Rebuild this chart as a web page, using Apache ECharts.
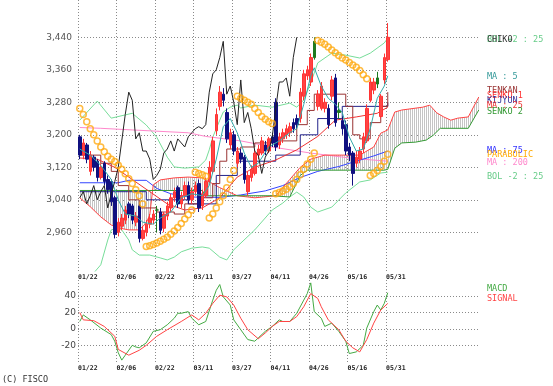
<!DOCTYPE html>
<html><head><meta charset="utf-8">
<script src="https://cdn.jsdelivr.net/npm/echarts@6/dist/echarts.min.js"></script>
<style>html,body{margin:0;padding:0;background:#fff}#c{width:553px;height:386px}</style>
</head><body><div id="c"></div><script>
const tickLabels = ['01/22','02/06','02/22','03/11','03/27','04/11','04/26','05/16','05/31'];
const priceTicks = [2960, 3040, 3120, 3200, 3280, 3360, 3440];
const macdTicks = [-20, 0, 20, 40];

const opens  = [3195,3150,3175,3110,3145,3135,3095,3130,3090,3085,3045,2960,2975,2990,3030,3025,2985,3025,2945,2960,2980,2990,3015,3010,2970,3000,3020,3045,3070,3030,3050,3075,3040,3060,3080,3025,3050,3085,3110,3210,3270,3300,3255,3175,3200,3130,3155,3145,3060,3095,3105,3150,3155,3175,3160,3195,3280,3175,3190,3200,3205,3230,3240,3240,3295,3345,3330,3390,3270,3265,3265,3265,3295,3340,3260,3235,3225,3170,3155,3130,3140,3165,3185,3285,3310,3325,3245,3335,3385];
const closes = [3150,3180,3140,3150,3120,3095,3120,3085,3065,3035,2955,2985,2995,3015,3005,2990,3000,2945,2965,2980,2995,3005,3015,2965,3005,3025,3045,3060,3030,3050,3075,3040,3060,3075,3020,3055,3085,3120,3185,3250,3305,3285,3190,3205,3160,3160,3140,3090,3100,3115,3155,3165,3185,3160,3190,3180,3170,3195,3205,3215,3220,3215,3225,3305,3350,3360,3390,3430,3300,3320,3280,3225,3335,3230,3255,3215,3160,3150,3105,3145,3160,3195,3265,3330,3330,3340,3295,3390,3440];
const lows   = [3140,3140,3130,3100,3110,3085,3090,3075,3055,3025,2945,2950,2965,2980,2995,2980,2975,2935,2940,2950,2970,2980,2960,2955,2960,2990,3010,3035,3020,3020,3040,3030,3030,3050,3010,3015,3045,3080,3105,3200,3260,3270,3180,3165,3150,3120,3130,3080,3050,3085,3100,3140,3150,3150,3155,3170,3160,3165,3180,3190,3195,3205,3215,3230,3285,3335,3320,3385,3260,3260,3255,3215,3285,3220,3240,3200,3150,3135,3075,3120,3130,3155,3180,3280,3300,3315,3240,3325,3380];
const highs  = [3200,3190,3180,3160,3150,3140,3130,3135,3100,3090,3050,2995,3005,3025,3035,3030,3010,3030,2975,2990,3005,3015,3025,3020,3010,3035,3055,3070,3075,3060,3085,3085,3070,3085,3090,3065,3095,3135,3195,3265,3320,3315,3265,3215,3210,3170,3165,3150,3110,3125,3165,3175,3195,3185,3195,3205,3290,3205,3215,3225,3230,3240,3250,3315,3360,3370,3400,3440,3310,3330,3290,3275,3345,3350,3280,3245,3235,3180,3160,3160,3170,3205,3275,3340,3340,3355,3300,3400,3475];
const greenDays = [22, 67, 74, 85];

const sar = [3265,3250,3232,3215,3200,3185,3170,3158,3147,3140,3134,3125,3115,3104,3092,3080,3065,3050,3030,
  2925,2927,2930,2934,2938,2943,2948,2955,2963,2972,2982,2993,3003,3015,
  3108,3105,3102,3098,
  2995,3005,3020,3035,3050,3070,3090,3112,
  3295,3290,3285,3280,3275,3265,3255,3245,3238,3232,3228,
  3055,3058,3062,3066,3072,3080,3090,3102,3115,3128,3140,3155,
  3432,3428,3423,3416,3409,3402,3395,3389,3384,3378,3372,3366,3358,3348,3338,
  3100,3105,3112,3122,3135,3152];

const ma5 = [[0,3165],[3,3150],[6,3125],[9,3090],[11,3040],[13,3005],[16,3000],[18,2985],[21,2980],[23,2995],[26,3010],[29,3045],[32,3055],[35,3050],[37,3075],[39,3140],[41,3220],[43,3240],[45,3205],[47,3155],[49,3120],[51,3130],[54,3170],[57,3185],[60,3205],[62,3215],[64,3275],[66,3345],[67,3365],[69,3320],[71,3290],[73,3275],[75,3255],[77,3195],[79,3160],[81,3165],[83,3215],[85,3290],[87,3320],[88,3345]];
const ma25 = [[0,3143],[5,3140],[10,3120],[15,3090],[20,3060],[25,3030],[30,3015],[35,3020],[40,3045],[45,3096],[50,3120],[56,3138],[62,3163],[68,3196],[73,3236],[79,3244],[85,3253],[88,3268]];
const ma75 = [[0,3082],[11,3082],[14,3088],[19,3088],[22,3068],[26,3055],[31,3047],[40,3046],[46,3052],[53,3062],[58,3075],[63,3095],[68,3110],[74,3122],[79,3135],[84,3148],[88,3160]];
const ma200 = [[0,3218],[6,3216],[15,3212],[31,3205],[36,3196],[46,3185],[55,3170],[66,3155],[78,3142],[88,3135]];
const bolUp = [[0,3236],[5,3283],[9,3241],[13,3249],[15,3253],[19,3224],[22,3194],[25,3145],[27,3121],[30,3118],[34,3121],[36,3138],[37,3163],[38,3194],[40,3236],[41,3256],[43,3268],[45,3273],[46,3266],[50,3273],[55,3268],[60,3278],[62,3268],[64,3286],[66,3328],[68,3377],[72,3401],[76,3396],[80,3389],[83,3401],[87,3426],[88,3438]];
const bolDn = [[0,2840],[3,2850],[6,2880],[8,2941],[9,2966],[11,2971],[12,2966],[14,2941],[15,2917],[17,2904],[20,2904],[23,2897],[25,2892],[27,2899],[29,2912],[32,2921],[35,2924],[37,2921],[40,2899],[42,2892],[44,2917],[50,2966],[55,3015],[58,3032],[60,3047],[62,3059],[64,3047],[66,3022],[68,3010],[72,3022],[76,3057],[80,3084],[83,3089],[86,3106],[88,3108]];
const tenkan = [[0,3150],[6,3130],[9,3110],[11,3075],[14,3040],[17,3020],[22,3010],[27,3005],[30,3030],[34,3045],[38,3080],[40,3135],[42,3165],[46,3170],[50,3180],[56,3185],[62,3225],[65,3260],[67,3300],[73,3300],[76,3270],[78,3200],[80,3190],[83,3230],[86,3270],[88,3305]];
const kijun = [[0,3060],[19,3040],[31,3030],[39,3100],[45,3135],[56,3150],[63,3200],[68,3240],[75,3270],[88,3280]];
const senko1 = [[0,3045],[3,3023],[6,2998],[9,2978],[11,2971],[14,2966],[17,2966],[19,2983],[20,3003],[21,3077],[23,3089],[27,3094],[31,3096],[35,3094],[40,3070],[45,3050],[50,3045],[56,3050],[60,3090],[63,3120],[66,3140],[70,3150],[75,3150],[80,3150],[84,3170],[86,3204],[88,3212],[90,3256],[92,3261],[98,3268],[100,3273],[102,3254],[104,3244],[106,3236],[108,3241],[111,3244],[114,3293]];
const senko2 = [[0,3063],[35,3063],[36,3050],[55,3050],[60,3047],[63,3100],[65,3113],[87,3113],[88,3115],[90,3167],[92,3180],[96,3182],[99,3187],[101,3199],[103,3216],[111,3216],[114,3261]];
const macd = [[0,9],[1,17],[3,11],[6,1],[9,-7],[10,-15],[11,-29],[12,-38],[13,-32],[15,-20],[16,-22],[17,-23],[19,-17],[21,-3],[23,-1],[25,5],[27,13],[28,19],[29,19],[31,21],[32,13],[34,5],[36,9],[38,35],[39,47],[40,54],[41,39],[43,29],[44,11],[46,-1],[48,-13],[50,-15],[51,-11],[53,-3],[55,3],[57,11],[58,9],[60,9],[62,19],[64,35],[65,43],[66,56],[67,21],[69,13],[70,3],[72,7],[74,-3],[76,-15],[77,-30],[79,-28],[81,-20],[82,1],[84,21],[85,29],[86,23],[87,31],[88,44]];
const signal = [[0,20],[1,11],[4,10],[7,3],[10,-9],[11,-25],[14,-32],[17,-26],[19,-20],[22,-9],[25,-1],[29,9],[32,17],[34,11],[36,19],[38,31],[40,41],[42,39],[44,29],[46,13],[48,-1],[51,-12],[53,-5],[55,3],[57,9],[60,9],[62,15],[64,27],[66,43],[68,37],[69,27],[71,11],[74,-1],[76,-15],[78,-23],[80,-28],[82,-13],[84,7],[86,23],[88,31]];

const N = 115, STEP = 11, LAST = 88, SHIFT = 26, BAND = 3.5;
const cats = Array.from({length: N}, (_, i) => i);
const dayCats = Array.from({length: LAST + 1}, (_, i) => i);
const isTick = (i) => i % STEP === 0 && i <= LAST;
const chikou = closes.slice(SHIFT).map((v, i) => [i, v]);
const candleData = opens.map((o, i) => {
  const d = {value: [o, closes[i], lows[i], highs[i]]};
  if (greenDays.includes(i)) d.itemStyle = {color:'#1f7a1f', color0:'#1f7a1f', borderColor:'#1f7a1f', borderColor0:'#1f7a1f'};
  return d;
});

const pc = document.createElement('canvas'); pc.width = 2; pc.height = 2;
const g = pc.getContext('2d'); g.fillStyle = '#c4c4c4'; g.fillRect(0, 0, 1, 2);
const pattern = {image: pc, repeat: 'repeat'};

const dot = {type: [1, 2], color: '#8a8a8a', width: 1};
const MONO = '"DejaVu Sans Mono", monospace';
const SANS = '"DejaVu Sans", sans-serif';

const hidden = (gi) => ({type:'category', gridIndex: gi, data: cats, show: false, boundaryGap: true});
const vlines = (gi) => ({type:'category', gridIndex: gi, data: dayCats, boundaryGap: false,
  axisLine:{show:false}, axisTick:{show:false},
  splitLine:{show:true, interval:(i)=>isTick(i), lineStyle: dot},
  axisLabel:{interval:(i)=>isTick(i), formatter:(v, i)=>tickLabels[i / STEP] || '', align:'left',
    margin: 3, fontSize: 6.5, fontWeight:'bold', fontFamily: MONO, color:'#222'}});

function line(name, data, color, xi, yi, extra) {
  return Object.assign({type:'line', name, data, xAxisIndex: xi, yAxisIndex: yi, showSymbol:false, symbol:'none',
    lineStyle:{color, width:1}, silent:true, z:3, clip:true}, extra || {});
}

const legendItems = [
  ['BOL +2 : 25', '#66cc88', 40], ['CHIKO', '#333333', 40], ['MA : 5', '#339999', 77],
  ['TENKAN', '#993333', 91], ['SENKO 1', '#ff3333', 96], ['KIJYUN', '#333399', 101], ['MA : 25', '#ee3333', 106], ['SENKO 2', '#339933', 112],
  ['MA : 75', '#3333ff', 151], ['PARABOLIC', '#ffaa00', 155], ['MA : 200', '#ff88cc', 163], ['BOL -2 : 25', '#66cc88', 177],
  ['MACD', '#44aa44', 289], ['SIGNAL', '#ff4444', 299]
];

const chart = echarts.init(document.getElementById('c'));
chart.setOption({
  animation: false,
  backgroundColor: '#fff',
  grid: [
    {left:78, width:N * BAND, top:0, height:271},
    {left:78, width:400, top:37.3, height:195},
    {left:78, width:N * BAND, top:280, height:82},
    {left:78, width:400, top:296, height:49.3},
    {left:78, width:LAST * BAND, top:0, height:271},
    {left:78, width:LAST * BAND, top:280, height:82}
  ],
  xAxis: [hidden(0), hidden(1), hidden(2), hidden(3), vlines(4), vlines(5)],
  yAxis: [
    {type:'value', gridIndex:0, min:2864.8, max:3531.8, show:false},
    {type:'value', gridIndex:1, min:priceTicks[0], max:priceTicks[priceTicks.length-1], interval:80,
      axisLine:{show:false}, axisTick:{show:false}, splitLine:{lineStyle: dot},
      axisLabel:{margin:6, fontSize:9, fontFamily:SANS, color:'#555', formatter:(v)=>v.toLocaleString('en-US')}},
    {type:'value', gridIndex:2, min:-40.3, max:59.5, show:false},
    {type:'value', gridIndex:3, min:macdTicks[0], max:macdTicks[macdTicks.length-1], interval:20,
      axisLine:{show:false}, axisTick:{show:false}, splitLine:{lineStyle: dot},
      axisLabel:{margin:2, fontSize:9, fontFamily:SANS, color:'#444'}},
    {type:'value', gridIndex:4, show:false},
    {type:'value', gridIndex:5, show:false}
  ],
  graphic: legendItems.map(([t, c, y]) => ({type:'text', x:487, y, silent:true, z:100,
    style:{text:t, fill:c, font:'8.5px ' + MONO, verticalAlign:'middle'}}))
    .concat([{type:'text', x:2, y:380, silent:true, style:{text:'(C) FISCO', fill:'#333', font:'8.5px ' + MONO, verticalAlign:'middle'}}]),
  series: [
    {type:'custom', xAxisIndex:0, yAxisIndex:0, data:[[0, 3000]], clip:true, silent:true, z:1,
      renderItem:(params, api) => {
        const pts = senko1.map(p => api.coord(p)).concat(senko2.slice().reverse().map(p => api.coord(p)));
        return {type:'polygon', shape:{points:pts}, style:{fill:pattern, stroke:null}};
      }},
    line('BOL+2', bolUp, '#77dd99', 0, 0),
    line('BOL-2', bolDn, '#77dd99', 0, 0),
    line('MA200', ma200, '#ff88cc', 0, 0),
    line('MA75', ma75, '#3344ff', 0, 0),
    line('SENKO1', senko1, '#ff4444', 0, 0),
    line('SENKO2', senko2, '#339933', 0, 0),
    line('KIJYUN', kijun, '#22228a', 0, 0, {step:'end'}),
    line('TENKAN', tenkan, '#993333', 0, 0, {step:'end'}),
    line('MA25', ma25, '#ee3333', 0, 0),
    {type:'candlestick', xAxisIndex:0, yAxisIndex:0, data:candleData, barWidth:3, silent:true, z:4,
      itemStyle:{color:'#ff4444', color0:'#101080', borderColor:'#ff3333', borderColor0:'#101080', borderWidth:1}},
    line('MA5', ma5, '#33aaaa', 0, 0, {z:5}),
    line('CHIKO', chikou, '#222222', 0, 0, {z:5}),
    {type:'scatter', xAxisIndex:0, yAxisIndex:0, data:sar.map((v, i) => [i, v]), symbol:'circle', symbolSize:6, silent:true, z:6,
      itemStyle:{color:'rgba(255,255,255,0)', borderColor:'#ffaa11', borderWidth:1.5}},
    line('MACD', macd, '#44aa44', 2, 2),
    line('SIGNAL', signal, '#ff4444', 2, 2)
  ]
});
</script></body></html>
